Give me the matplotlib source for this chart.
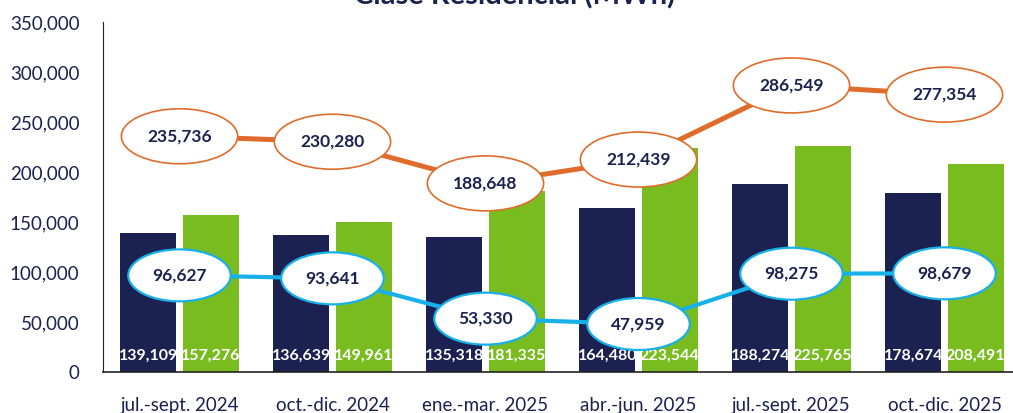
import numpy as np
import matplotlib
matplotlib.use("Agg")
from matplotlib import pyplot as plt
from matplotlib.patches import Ellipse

plt.rcParams['font.family'] = ['Lato', 'DejaVu Sans']

# data
periods = ['jul.-sept. 2024', 'oct.-dic. 2024', 'ene.-mar. 2025',
           'abr.-jun. 2025', 'jul.-sept. 2025', 'oct.-dic. 2025']
dark_bars = [139109, 136639, 135318, 164480, 188274, 178674]
green_bars = [157276, 149961, 181335, 223544, 225765, 208491]
orange_line = [235736, 230280, 188648, 212439, 286549, 277354]
blue_line = [96627, 93641, 53330, 47959, 98275, 98679]

NAVY = '#1b2150'
GREEN = '#78bc20'
ORANGE = '#e06c2c'
BLUE = '#18b0e8'

fig = plt.figure(figsize=(10.13, 4.13), dpi=100)
ax = fig.add_axes([103/1013, 41/413, 918/1013, 350/413])

x = np.arange(len(periods))
w = 0.366
off = 0.203
ax.bar(x - off, dark_bars, w, color=NAVY, zorder=2)
ax.bar(x + off, green_bars, w, color=GREEN, zorder=2)

# white value labels near the bottom of each bar
for i in range(len(periods)):
    ax.text(x[i] - off, 16000, f'{dark_bars[i]:,}', ha='center', va='center',
            color='white', fontsize=11.5, fontweight='bold', zorder=3)
    ax.text(x[i] + off, 16000, f'{green_bars[i]:,}', ha='center', va='center',
            color='white', fontsize=11.5, fontweight='bold', zorder=3)

ax.plot(x, orange_line, color=ORANGE, lw=3.6, zorder=4, solid_capstyle='butt')
ax.plot(x, blue_line, color=BLUE, lw=3.0, zorder=4, solid_capstyle='butt')

# ellipse callouts
for i in range(len(periods)):
    ax.add_patch(Ellipse((x[i], orange_line[i]), 0.76, 55000, facecolor='white',
                         edgecolor=ORANGE, lw=1.2, zorder=5))
    ax.text(x[i], orange_line[i], f'{orange_line[i]:,}', ha='center', va='center',
            color=NAVY, fontsize=12.5, fontweight='bold', zorder=6)
    ax.add_patch(Ellipse((x[i], blue_line[i]), 0.67, 52000, facecolor='white',
                         edgecolor=BLUE, lw=1.6, zorder=5))
    ax.text(x[i], blue_line[i], f'{blue_line[i]:,}', ha='center', va='center',
            color=NAVY, fontsize=12.5, fontweight='bold', zorder=6)

ax.set_xlim(-0.5, len(periods) - 0.5)
ax.set_ylim(0, 350000)
ax.set_yticks(np.arange(0, 350001, 50000))
ax.set_yticklabels([f'{v:,}' for v in range(0, 350001, 50000)])
ax.set_xticks(x)
ax.set_xticklabels(periods)
ax.tick_params(axis='both', length=0, labelsize=13.5, colors=NAVY)
ax.tick_params(axis='y', pad=17)
ax.tick_params(axis='x', pad=18)

for s in ['top', 'right']:
    ax.spines[s].set_visible(False)
ax.spines['left'].set_color('#222222')
ax.spines['bottom'].set_color('#222222')
ax.spines['bottom'].set_linewidth(1.2)

# title is mostly cut off at the top edge, as in the source
fig.text(515/1013, 1 - 4/413, 'Clase Residencial (MWh)', ha='center', va='baseline',
         fontsize=21, fontweight='bold', color=NAVY)

fig.savefig('out.png', dpi=100)
